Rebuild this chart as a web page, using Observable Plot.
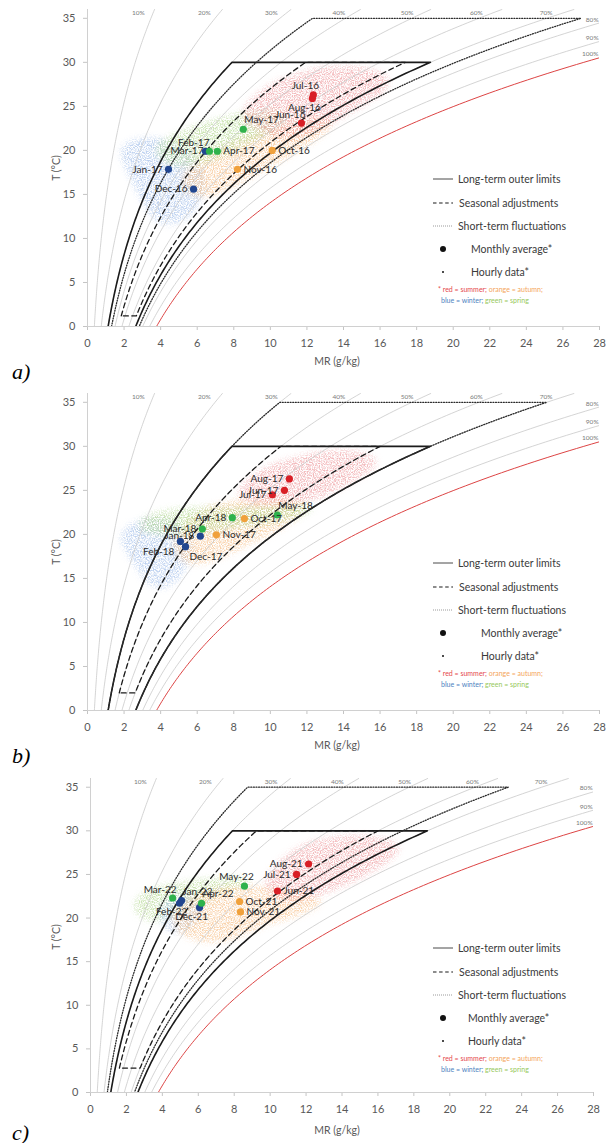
<!DOCTYPE html>
<html><head><meta charset="utf-8">
<script src="https://cdn.jsdelivr.net/npm/d3@7"></script>
<script src="https://cdn.jsdelivr.net/npm/@observablehq/plot@0.6"></script>
<style>
html,body{margin:0;padding:0;background:#fff;}
#wrap{position:relative;width:608px;height:1143px;overflow:hidden;font-family:Lato,"Open Sans",sans-serif;}
.abs{position:absolute;white-space:nowrap;line-height:1;}
.panel{position:absolute;left:0;}
.plab{font-family:"Liberation Serif","DejaVu Serif",serif;font-style:italic;font-size:22px;color:#000;}
.axt{font-size:10.5px;color:#595959;}
.leg{font-size:10.5px;color:#3a3a3a;}
.foot{font-size:7px;}
</style></head><body><div id="wrap"></div>
<script>
// ---------- shared data ----------
const xTicks = [0,2,4,6,8,10,12,14,16,18,20,22,24,26,28];
const yTicks = [0,5,10,15,20,25,30,35];
const rhLevels = [10,20,30,40,50,60,70,80,90,100];
const legendLabels = ["Long-term outer limits","Seasonal adjustments","Short-term fluctuations","Monthly average*","Hourly data*"];
const panelLetters = ["a)","b)","c)"];
const zoneKinds = ["long","seasonal","short"];

// ---------- panel a (2016-17) ----------
const monthsA = ["Jun-16","Jul-16","Aug-16","Oct-16","Nov-16","Dec-16","Jan-17","Feb-17","Mar-17","Apr-17","May-17"];
const mrA     = [11.7,12.35,12.3,10.1,8.2,5.8,4.43,6.45,6.67,7.1,8.52];
const tA      = [23.1,26.3,25.9,20.0,17.85,15.6,17.85,19.9,19.9,19.9,22.4];
const seasonA = ["summer","summer","summer","autumn","autumn","winter","winter","winter","spring","spring","spring"];
const sideA   = ["nw","n","s","r","r","l","l","nw","l","r","ne"];
const zoneLowA  = [30,45,35];
const zoneHighA = [70,65,75];
const zoneTminA = [0,1.2,0];
const zoneTmaxA = [30,30,35];
const cloudAWinter = [[1.6,20],[2.4,21.4],[4,21.6],[5.5,20.3],[6.5,17.5],[6.4,14.5],[5.2,11.5],[3.8,11.5],[3,14],[2.2,17.5]];
const cloudASpring = [[3.5,20.5],[5,22.2],[7,23.6],[9,24.6],[10.8,24.6],[11,23],[9.5,21.5],[7.5,19.3],[5.5,18],[4,18.5]];
const cloudAAutumn = [[5,17.5],[6.5,19.8],[8.5,21.6],[10.5,23],[12.5,24],[13.8,23.5],[12.5,21],[10.3,18.5],[8.2,16],[6.5,14.5],[5.3,15]];
const cloudASummer = [[8,24],[9.5,27],[11,28.6],[13,29.6],[15,29.6],[16.5,28.6],[16.6,27],[15,25],[13,22.5],[11,21],[9.5,22]];

// ---------- panel b (2017-18) ----------
const monthsB = ["Jun-17","Jul-17","Aug-17","Oct-17","Nov-17","Dec-17","Jan-18","Feb-18","Mar-18","Apr-18","May-18"];
const mrB     = [10.77,10.11,11.04,8.58,7.05,5.36,6.17,5.08,6.28,7.92,10.38];
const tB      = [25.0,24.5,26.3,21.8,19.95,18.6,19.8,19.2,20.6,21.9,22.2];
const seasonB = ["summer","summer","summer","autumn","autumn","winter","winter","winter","spring","spring","spring"];
const sideB   = ["l","l","l","r","r","se","l","sw","l","l","ne"];
const zoneLowB  = [30,40,30];
const zoneHighB = [70,60,70];
const zoneTminB = [0,2,0];
const zoneTmaxB = [30,30,35];
const cloudBWinter = [[1.8,20.5],[3.2,22.2],[5,21.5],[5.9,19.5],[5.6,16.5],[4.6,13.8],[3.4,13.8],[2.6,16.5],[1.8,19]];
const cloudBSpring = [[2.6,21.5],[4,22.8],[6,23.2],[8,23],[10,23.2],[12,23.8],[12.6,22.8],[11,21.5],[9,21],[7,20.4],[5,19.8],[3,20]];
const cloudBAutumn = [[4.5,19],[5.5,22],[7,23.6],[9,24.1],[11,24.2],[12.2,23.2],[11,21],[9.5,19.5],[8,18],[6.5,16.5],[5,16.6]];
const cloudBSummer = [[8,25],[9.5,27.6],[11,28.6],[13,29.6],[15,29.6],[16.2,28.2],[15,26.5],[13.5,24.8],[12,23.5],[10,23.2],[8.5,23.6]];

// ---------- panel c (2021-22) ----------
const monthsC = ["Jun-21","Jul-21","Aug-21","Oct-21","Nov-21","Dec-21","Jan-22","Feb-22","Mar-22","Apr-22","May-22"];
const mrC     = [10.41,11.47,12.14,8.3,8.35,6.07,5.07,4.96,4.57,6.18,8.57];
const tC      = [23.1,25.0,26.2,21.9,20.7,21.2,22.0,21.7,22.3,21.7,23.65];
const seasonC = ["summer","summer","summer","autumn","autumn","winter","winter","winter","spring","spring","spring"];
const sideC   = ["r","l","l","r","r","s","ne","s","nw","ne","n"];
const zoneLowC  = [30,35,25];
const zoneHighC = [70,60,65];
const zoneTminC = [0,2.8,0];
const zoneTmaxC = [30,30,35];
const cloudCSpring = [[2.2,21.5],[3,23.2],[4.5,24],[6.5,24.5],[8.5,25],[9.2,24],[7,22.5],[5.5,21],[4,19.5],[2.8,19.8]];
const cloudCWinter = [[3.6,21],[4.4,22.6],[5.6,22.6],[6.3,21.5],[6.1,19.8],[5.1,18.2],[4.2,18.4]];
const cloudCAutumn = [[4.5,21],[6,23],[8,23.9],[10,23.6],[12,23.1],[13.2,22],[12,20.4],[10,19.4],[8.5,18],[7,17],[5.5,17.5],[4.5,19]];
const cloudCSummer = [[9.5,24.5],[11,27.6],[12.5,29.1],[14.5,29.6],[16.5,29.3],[17.6,28],[16,25.5],[14,23.5],[12,22],[10,22]];

// ---------- styling ----------
const dotColor   = {summer:"#d81f26", autumn:"#f0a13c", winter:"#21468f", spring:"#2fb24c"};
const cloudColor = {summer:"#ee9fa2", autumn:"#f7c08a", winter:"#a6c1ea", spring:"#b5da93"};
const sideCfg = {
  l:{anchor:"end",dx:-6,dy:0}, r:{anchor:"start",dx:6,dy:0},
  nw:{anchor:"end",dx:4,dy:-8}, ne:{anchor:"start",dx:1,dy:-9},
  n:{anchor:"middle",dx:-8,dy:-9}, s:{anchor:"middle",dx:-8,dy:9},
  sw:{anchor:"end",dx:-6,dy:10}, se:{anchor:"start",dx:4,dy:10}
};
const zoneStyle = {
  long:{stroke:"#1b1b1b",strokeWidth:1.6,strokeDasharray:null},
  seasonal:{stroke:"#1b1b1b",strokeWidth:1.3,strokeDasharray:"5,3.5"},
  short:{stroke:"#2a2a2a",strokeWidth:1.3,strokeDasharray:"1,1.6"}
};

// ---------- psychrometrics ----------
const es = T => 0.61094*Math.exp(17.625*T/(T+243.04));        // kPa
const mixRatio = (rh,T) => { const e = rh/100*es(T); return 622*e/(101.325-e); }; // g/kg
const tSteps = (a,b) => d3.range(a,b,0.25).concat([b]);
function tAtMR(rh, mr){ const e = mr*101.325/(622+mr); const s = e/(rh/100); const L = Math.log(s/0.61094); return 243.04*L/(17.625-L); }

const panels = [
  {id:"a", top:0,   height:360, mt:9, mb:34, ml:87, mr:9,  months:monthsA, mrs:mrA, ts:tA, seasons:seasonA, sides:sideA,
   zl:zoneLowA, zh:zoneHighA, z0:zoneTminA, z1:zoneTmaxA,
   clouds:[["winter",cloudAWinter],["autumn",cloudAAutumn],["spring",cloudASpring],["summer",cloudASummer]], monthX:471},
  {id:"b", top:384, height:360, mt:9, mb:34, ml:87, mr:9,  months:monthsB, mrs:mrB, ts:tB, seasons:seasonB, sides:sideB,
   zl:zoneLowB, zh:zoneHighB, z0:zoneTminB, z1:zoneTmaxB,
   clouds:[["winter",cloudBWinter],["autumn",cloudBAutumn],["spring",cloudBSpring],["summer",cloudBSummer]], monthX:481},
  {id:"c", top:769, height:360, mt:9, mb:37, ml:90, mr:15, months:monthsC, mrs:mrC, ts:tC, seasons:seasonC, sides:sideC,
   zl:zoneLowC, zh:zoneHighC, z0:zoneTminC, z1:zoneTmaxC,
   clouds:[["spring",cloudCSpring],["winter",cloudCWinter],["autumn",cloudCAutumn],["summer",cloudCSummer]], monthX:468}
];

const wrap = document.getElementById("wrap");
function addText(txt, left, top, cls, extra){
  const d = document.createElement("div");
  d.className = "abs "+cls; d.textContent = txt;
  d.style.left = left+"px"; d.style.top = top+"px";
  d.style.transform = extra || "translate(0,-50%)";
  wrap.appendChild(d); return d;
}

panels.forEach((p, pi) => {
  const pts = p.months.map((m,i)=>({m, x:p.mrs[i], y:p.ts[i], season:p.seasons[i], side:p.sides[i]}));
  const marks = [];
  // hourly clouds
  p.clouds.forEach(([season, poly]) => {
    marks.push(Plot.line(poly, {x:d=>d[0], y:d=>d[1], fill:cloudColor[season], fillOpacity:0.72, stroke:"none", curve:"basis-closed"}));
  });
  // axes lines
  marks.push(Plot.ruleY([0], {stroke:"#d0d0d0", strokeWidth:1}));
  marks.push(Plot.ruleX([0], {y1:0, y2:36, stroke:"#d0d0d0", strokeWidth:1}));
  // RH curves
  rhLevels.forEach(rh => {
    const curve = tSteps(0,36).map(T=>({x:mixRatio(rh,T), y:T})).filter(d=>d.x<=29);
    marks.push(Plot.line(curve, {x:"x", y:"y", stroke: rh===100 ? "#dd4444" : "#c9c9c9", strokeWidth: rh===100 ? 1 : 0.8, clip:true}));
  });
  // RH labels
  const topLabels = rhLevels.filter(r=>r<=70).map(r=>({x:mixRatio(r,35)-(0.8-0.011*r), y:35.6, t:r+"%"}));
  const sideLabels = rhLevels.filter(r=>r>70).map(r=>({x:27.95, y:tAtMR(r,28)+0.4, t:r+"%"}));
  marks.push(Plot.text(topLabels, {x:"x", y:"y", text:"t", fontSize:6.5, fill:"#7a7a7a"}));
  marks.push(Plot.text(sideLabels, {x:"x", y:"y", text:"t", fontSize:6.5, fill:"#7a7a7a", textAnchor:"end"}));
  // limit zones
  zoneKinds.forEach((k, zi) => {
    const lo = p.zl[zi], hi = p.zh[zi], t0 = p.z0[zi], t1 = p.z1[zi];
    const left = tSteps(t0,t1).map(T=>({x:mixRatio(lo,T), y:T}));
    const right = tSteps(t0,t1).reverse().map(T=>({x:mixRatio(hi,T), y:T}));
    const path = left.concat(right);
    if (t0 > 0) path.push(left[0]);
    const st = zoneStyle[k];
    const opts = {x:"x", y:"y", stroke:st.stroke, strokeWidth:st.strokeWidth, clip:true};
    if (st.strokeDasharray) opts.strokeDasharray = st.strokeDasharray;
    marks.push(Plot.line(path, opts));
  });
  // monthly averages
  marks.push(Plot.dot(pts, {x:"x", y:"y", r:3.6, fill:d=>dotColor[d.season], stroke:"none"}));
  Object.keys(sideCfg).forEach(code => {
    const sub = pts.filter(d=>d.side===code);
    if (!sub.length) return;
    const c = sideCfg[code];
    marks.push(Plot.text(sub, {x:"x", y:"y", text:"m", textAnchor:c.anchor, dx:c.dx, dy:c.dy, fontSize:10, fill:"#2a2a2a"}));
  });

  const svg = Plot.plot({
    width:608, height:p.height,
    marginTop:p.mt, marginBottom:p.mb, marginLeft:p.ml, marginRight:p.mr,
    style:{fontFamily:"Lato, 'Open Sans', sans-serif", fontSize:"11px", color:"#595959", background:"transparent", overflow:"visible"},
    x:{domain:[0,28], ticks:xTicks, tickSize:4, tickPadding:9, label:null},
    y:{domain:[0,36], ticks:yTicks, tickSize:4, tickPadding:8, label:null},
    color:{type:"identity"},
    marks
  });
  // post: tick colours and speckled clouds
  svg.querySelectorAll('[aria-label="x-axis tick"],[aria-label="y-axis tick"]').forEach(g=>g.setAttribute("stroke","#c4c4c4"));
  svg.querySelectorAll('[aria-label="x-axis"] line,[aria-label="y-axis"] line').forEach(l=>l.setAttribute("stroke","#c4c4c4"));
  const ns = "http://www.w3.org/2000/svg";
  const defs = document.createElementNS(ns,"defs");
  defs.innerHTML = `<filter id="spk${p.id}" x="-30%" y="-30%" width="160%" height="160%">
    <feGaussianBlur in="SourceGraphic" stdDeviation="3" result="b"/>
    <feTurbulence type="fractalNoise" baseFrequency="0.85" numOctaves="2" seed="${5+pi}" result="n"/>
    <feColorMatrix in="n" type="matrix" values="0 0 0 0 1  0 0 0 0 1  0 0 0 0 1  3.2 0 0 0 -1.2" result="m"/>
    <feComposite in="b" in2="m" operator="in"/>
  </filter>`;
  svg.insertBefore(defs, svg.firstChild);
  svg.querySelectorAll('g[aria-label="line"]').forEach(g=>{
    const f = g.getAttribute("fill"); if (f && f!=="none") g.setAttribute("filter",`url(#spk${p.id})`);
  });
  const holder = document.createElement("div");
  holder.className = "panel"; holder.style.top = p.top+"px";
  holder.appendChild(svg);
  wrap.appendChild(holder);

  // axis titles
  addText("T (°C)", 56, p.top+168, "axt", "translate(-50%,-50%) rotate(-90deg)");
  addText("MR (g/kg)", 337, p.top+361, "axt", "translate(-50%,-50%)");

  // legend
  const rows = [179,203,226,249,272].map(v=>v+p.top);
  const lineSample = (y, dash, col, w) => {
    const s = document.createElementNS("http://www.w3.org/2000/svg","svg");
    s.setAttribute("width",22); s.setAttribute("height",6);
    s.style.position="absolute"; s.style.left="432px"; s.style.top=(y-3)+"px";
    s.innerHTML = `<line x1="1" y1="3" x2="21" y2="3" stroke="${col}" stroke-width="${w}" ${dash?`stroke-dasharray="${dash}"`:""}/>`;
    wrap.appendChild(s);
  };
  lineSample(rows[0], null, "#4a4a4a", 1);
  lineSample(rows[1], "3.5,2.6", "#1b1b1b", 1.2);
  lineSample(rows[2], "1,1", "#9a9a9a", 1);
  addText(legendLabels[0], 458, rows[0], "leg");
  addText(legendLabels[1], 459, rows[1], "leg");
  addText(legendLabels[2], 458, rows[2], "leg");
  const dotEl = (y, r) => { const d=document.createElement("div"); d.style.cssText=`position:absolute;left:${443-r}px;top:${y-r}px;width:${2*r}px;height:${2*r}px;border-radius:50%;background:#111;`; wrap.appendChild(d); };
  dotEl(rows[3], 3); dotEl(rows[4], 1);
  addText(legendLabels[3], p.monthX, rows[3], "leg");
  addText(legendLabels[4], p.monthX, rows[4], "leg");
  const f1 = addText("", 438, p.top+289, "foot");
  f1.innerHTML = '<span style="color:#e5484d">* red = summer;</span> <span style="color:#f4a55b">orange = autumn;</span>';
  const f2 = addText("", 441, p.top+300, "foot");
  f2.innerHTML = '<span style="color:#4e7fc0">blue = winter;</span> <span style="color:#95c85a">green = spring</span>';

  // panel letter
  const letterY = [372, 756, 1133][pi];
  addText(panelLetters[pi], 12, letterY, "plab");
});
</script></body></html>
